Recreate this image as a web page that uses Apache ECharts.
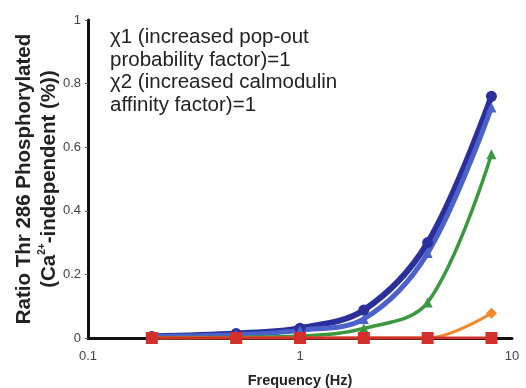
<!DOCTYPE html>
<html>
<head>
<meta charset="utf-8">
<script src="https://cdn.jsdelivr.net/npm/echarts@6/dist/echarts.min.js"></script>
<style>
  html, body { margin: 0; padding: 0; background: #fff; }
  #chart { width: 526px; height: 388px; }
</style>
</head>
<body>
<div id="chart"></div>
<script>
// Stimulation frequencies (Hz)
var frequencies = [0.2, 0.5, 1, 2, 4, 8];

// Fraction of Thr286-phosphorylated (Ca2+-independent) CaMKII
var seriesCircle   = [0.005, 0.014, 0.031, 0.088, 0.300, 0.760];
var seriesTriangle = [0.004, 0.010, 0.024, 0.060, 0.267, 0.725];
var seriesGreen    = [0.001, 0.002, 0.006, 0.030, 0.112, 0.578];
var seriesOrange   = [0, 0, 0, 0, 0, 0.078];
var seriesRed      = [0, 0, 0, 0, 0, 0];

var yTicks = [0, 0.2, 0.4, 0.6, 0.8, 1];
var xTicks = [0.1, 1, 10];

var annotationLines = [
  'χ1 (increased pop-out',
  'probability factor)=1',
  'χ2 (increased calmodulin',
  'affinity factor)=1'
];

var FONT = 'Liberation Sans, Arial, Helvetica, sans-serif';

function pairs(vals) {
  return frequencies.map(function (f, i) { return [f, vals[i]]; });
}

function line(name, vals, color, width, symbol, size) {
  return {
    name: name,
    type: 'line',
    data: pairs(vals),
    smooth: 0.35,
    symbol: symbol,
    symbolSize: size,
    showSymbol: true,
    lineStyle: { color: color, width: width },
    itemStyle: { color: color },
    emphasis: { disabled: true }
  };
}

var chart = echarts.init(document.getElementById('chart'));
chart.setOption({
  animation: false,
  grid: { left: 88, right: 14, top: 20, bottom: 50, containLabel: false, outerBoundsMode: 'none' },
  xAxis: {
    type: 'log',
    logBase: 10,
    min: xTicks[0],
    max: xTicks[xTicks.length - 1],
    name: 'Frequency (Hz)',
    nameLocation: 'middle',
    nameGap: 35,
    nameMoveOverlap: false,
    nameTextStyle: { fontFamily: FONT, fontWeight: 'bold', fontSize: 14.5, color: '#222' },
    axisLine: { lineStyle: { color: '#111', width: 3 } },
    axisTick: { show: false },
    splitLine: { show: false },
    minorTick: { show: false },
    axisLabel: {
      fontFamily: FONT, fontSize: 13, color: '#444', margin: 12,
      formatter: function (v) { return String(+v.toPrecision(3)); }
    }
  },
  yAxis: {
    type: 'value',
    min: yTicks[0],
    max: yTicks[yTicks.length - 1],
    interval: 0.2,
    name: '{t|Ratio Thr 286 Phosphorylated}\n{t|(Ca}{s|2+}{t|-independent (%))}',
    nameLocation: 'middle',
    nameRotate: 90,
    nameGap: 26,
    nameMoveOverlap: false,
    nameTextStyle: {
      rich: {
        t: { fontFamily: FONT, fontWeight: 'bold', fontSize: 20.5, color: '#222', lineHeight: 25 },
        s: { fontFamily: FONT, fontWeight: 'bold', fontSize: 10, color: '#222', verticalAlign: 'top', padding: [0, 0, 10, 0] }
      }
    },
    axisLine: { show: true, lineStyle: { color: '#111', width: 3 } },
    axisTick: { show: true, length: 3, lineStyle: { color: '#555', width: 1 } },
    splitLine: { show: false },
    axisLabel: {
      fontFamily: FONT, fontSize: 13, color: '#444', margin: 7,
      formatter: function (v) { return String(+v.toFixed(1)); }
    }
  },
  series: [
    line('circle', seriesCircle, '#2b2f9c', 6, 'circle', 11),
    line('triangle', seriesTriangle, '#4a62c9', 5, 'triangle', 10),
    line('green', seriesGreen, '#3a9940', 3.5, 'triangle', 10),
    line('orange', seriesOrange, '#f0892a', 3, 'diamond', 11),
    line('red', seriesRed, '#d3302c', 3, 'rect', 12)
  ],
  graphic: annotationLines.map(function (txt, i) {
    return {
      type: 'text',
      left: 110,
      top: 27 + i * 22.5,
      style: {
        text: txt,
        fontFamily: FONT,
        fontSize: 20.5,
        fill: '#222'
      }
    };
  })
});
</script>
</body>
</html>
